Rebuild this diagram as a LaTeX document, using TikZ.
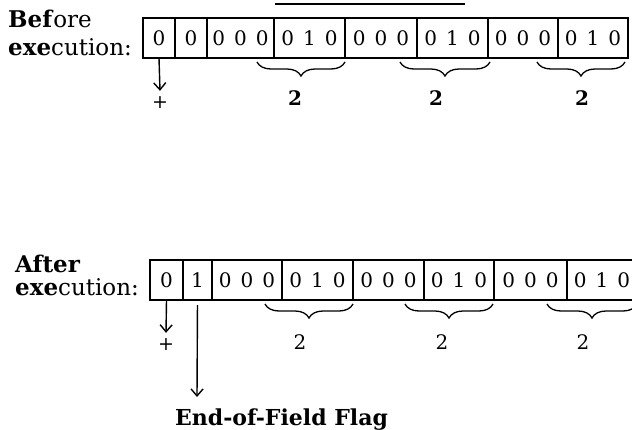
\documentclass[tikz,border=0pt]{standalone}
\usepackage{fontspec}
\setmainfont{DejaVu Serif}
\usetikzlibrary{positioning, calc, decorations.pathreplacing, arrows.meta}
\tikzset{
    cell/.style={rectangle, draw=black, line width=1.5pt, minimum height=40pt, inner sep=0pt, outer sep=0pt, font=\fontsize{20}{20}\selectfont},
    caption/.style={anchor=base west, inner sep=0pt, font=\fontsize{23}{24}\selectfont},
    count/.style={inner sep=0pt, font=\fontsize{20}{20}\selectfont},
    sign/.style={inner sep=6pt, font=\fontsize{19}{19}\selectfont},
    arrow/.style={line width=1.4pt, -{Straight Barb[length=7pt, width=12pt, line width=1.4pt]}},
    group/.style={decorate, decoration={brace, mirror, amplitude=14pt}, line width=1.3pt}
}
\newcommand{\bitgap}{\hspace{9pt}}
\begin{document}
\begin{tikzpicture}[x=1pt, y=-1pt]
    \useasboundingbox (0,0) rectangle (632,429);
    % rule cut off at the top
    \coordinate (ruleL) at (275,4);
    \coordinate (ruleR) at (465,4);
    \draw [line width=1.8pt] (ruleL) -- (ruleR);

    % before execution
    \node (before) [caption] at (8,27) {\textbf{Bef}ore};
    \node (exec1) [caption] at (8,55) {\textbf{exe}cution:};
    \node (b1) [cell, minimum width=32pt, anchor=west] at (143,38) {0};
    \node (b2) [cell, minimum width=32pt, right=0pt of b1] {0};
    \node (b3) [cell, minimum width=67pt, right=0pt of b2] {0\bitgap0\bitgap0};
    \node (b4) [cell, minimum width=71pt, right=0pt of b3] {0\bitgap1\bitgap0};
    \node (b5) [cell, minimum width=72pt, right=0pt of b4] {0\bitgap0\bitgap0};
    \node (b6) [cell, minimum width=71pt, right=0pt of b5] {0\bitgap1\bitgap0};
    \node (b7) [cell, minimum width=70pt, right=0pt of b6] {0\bitgap0\bitgap0};
    \node (b8) [cell, minimum width=70pt, right=0pt of b7] {0\bitgap1\bitgap0};
    \node (plus1) [sign] at (160,103) {+};
    \draw [arrow] (b1.south) -- (plus1.north);

    \draw [group] ($(b3.south east)+(-17,4)$) -- ($(b4.south east)+(0,4)$);
    \draw [group] ($(b5.south east)+(-17,4)$) -- ($(b6.south east)+(2,4)$);
    \draw [group] ($(b7.south east)+(-21,4)$) -- ($(b8.south east)+(-3,4)$);
    \node (cnt1) [count] at (295,98) {\textbf{2}};
    \node (cnt2) [count] at (436,98) {\textbf{2}};
    \node (cnt3) [count] at (582,98) {\textbf{2}};

    % after execution
    \node (after) [caption] at (15,272) {\textbf{After}};
    \node (exec2) [caption] at (15,295) {\textbf{exe}cution:};
    \node (a1) [cell, minimum width=33pt, anchor=west] at (150,280) {0};
    \node (a2) [cell, minimum width=29pt, right=0pt of a1] {1};
    \node (a3) [cell, minimum width=70pt, right=0pt of a2] {0\bitgap0\bitgap0};
    \node (a4) [cell, minimum width=71pt, right=0pt of a3] {0\bitgap1\bitgap0};
    \node (a5) [cell, minimum width=71pt, right=0pt of a4] {0\bitgap0\bitgap0};
    \node (a6) [cell, minimum width=70pt, right=0pt of a5] {0\bitgap1\bitgap0};
    \node (a7) [cell, minimum width=73pt, right=0pt of a6] {0\bitgap0\bitgap0};
    \node (a8) [cell, minimum width=70pt, right=0pt of a7] {0\bitgap1\bitgap0};
    \node (plus2) [sign] at (166,345) {+};
    \draw [arrow] (a1.south) -- (plus2.north);

    \draw [group] ($(a3.south east)+(-17,4)$) -- ($(a4.south east)+(0,4)$);
    \draw [group] ($(a5.south east)+(-19,4)$) -- ($(a6.south east)+(-1,4)$);
    \draw [group] ($(a7.south east)+(-20,4)$) -- ($(a8.south east)+(0,4)$);
    \node (cnt4) [count] at (300,342) {2};
    \node (cnt5) [count] at (442,342) {2};
    \node (cnt6) [count] at (583,342) {2};

    \coordinate (flagtip) at (197,397);
    \draw [arrow, shorten <=5pt] (a2.south) -- (flagtip);
    \node (flag) [caption, font=\fontsize{22}{24}\selectfont\bfseries] at (175,425) {End-of-Field Flag};
\end{tikzpicture}
\end{document}
